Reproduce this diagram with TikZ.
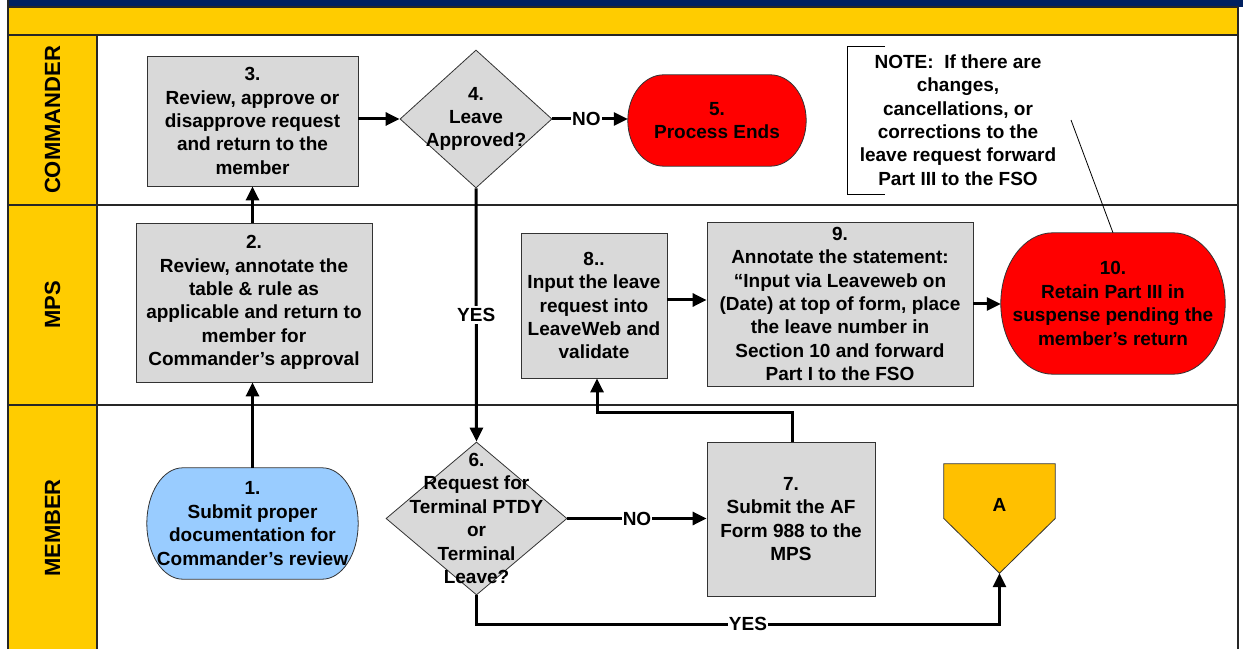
\documentclass[tikz,border=0pt]{standalone}
\usepackage{fontspec}
\setmainfont{Liberation Sans}
\usetikzlibrary{arrows.meta,calc,backgrounds,shapes.geometric}

\definecolor{navy}{RGB}{0,32,96}
\definecolor{laneyellow}{RGB}{255,204,0}
\definecolor{boxgray}{RGB}{217,217,217}
\definecolor{termred}{RGB}{255,0,0}
\definecolor{termblue}{RGB}{153,204,255}
\definecolor{offpage}{RGB}{255,192,0}

% terminator outline with elliptical ends, drawn behind a named node
\newcommand\termfill[3]{%
  \path[draw=black!80, line width=0.8pt, fill=#3]
    let \p1=(#1.north west), \p2=(#1.south east), \n1={(\y1-\y2)/2} in
    (\x1+#2pt,\y1) -- (\x2-#2pt,\y1)
    arc[start angle=90, end angle=-90, x radius=#2pt, y radius=\n1]
    -- (\x1+#2pt,\y2)
    arc[start angle=270, end angle=90, x radius=#2pt, y radius=\n1] -- cycle;}

\tikzset{
  txt/.style={font=\bfseries\fontsize{19}{23.4}\selectfont, align=center, inner sep=0pt},
  lanelbl/.style={font=\bfseries\fontsize{22}{26}\selectfont, rotate=90, inner sep=0pt},
  frameline/.style={draw=black!85, line width=1.2pt},
  procbox/.style={txt, rectangle, draw=black!80, line width=0.8pt, fill=boxgray},
  decision/.style={diamond, draw=black!80, line width=0.8pt, fill=boxgray, inner sep=0pt},
  termnode/.style={txt, rectangle, draw=none},
  conn/.style={line width=3pt, -{Triangle[length=14pt,width=13pt]}},
  lbl/.style={txt, fill=white, inner xsep=1pt, inner ysep=2pt},
}

\begin{document}
\begin{tikzpicture}[x=1pt, y=1pt]
\useasboundingbox (0,0) rectangle (1243,649);

% ---- swim-lane frame ----
\fill[navy] (8,642) rectangle (1243,649);
\fill[laneyellow] (8,614) rectangle (1238,642);
\fill[laneyellow] (8,0) rectangle (97,614);
\draw[frameline] (8,642) -- (1238,642);
\draw[frameline] (8,614) -- (1238,614);
\draw[frameline] (8,444) -- (1238,444);
\draw[frameline] (8,244) -- (1238,244);
\draw[frameline] (8,0) -- (8,649);
\draw[frameline] (97,0) -- (97,614);
\draw[frameline] (1238,0) -- (1238,642);

\node[lanelbl] (lcmd) at (52.5,529) {COMMANDER};
\node[lanelbl] (lmps) at (52.5,344) {MPS};
\node[lanelbl] (lmem) at (52.5,121) {MEMBER};

% ---- Commander lane ----
\node[procbox, minimum width=211pt, minimum height=130pt] (n3) at (252.5,528)
  {3.\\Review, approve or\\disapprove request\\and return to the\\member};
\node[decision, minimum width=152pt, minimum height=138pt] (d4) at (476,530) {};
\node[txt] (t4) at (476,530) {4.\\Leave\\Approved?};
\node[termnode, minimum width=178pt, minimum height=91pt] (n5) at (717,528.5)
  {5.\\Process Ends};

\node[txt] (note) at (958,529)
  {NOTE:\ \ If there are\\changes,\\cancellations, or\\corrections to the\\leave request forward\\Part III to the FSO};
\draw[black, line width=0.8pt] (885,603) -- (847,603) -- (847,455) -- (885,455);
\coordinate (notetail) at (1071,529);

% ---- MPS lane ----
\node[procbox, minimum width=236pt, minimum height=159pt] (n2) at (254,346.5)
  {2.\\Review, annotate the\\table \& rule as\\applicable and return to\\member for\\Commander’s approval};
\node[procbox, minimum width=146pt, minimum height=145pt] (n8) at (594,343.5)
  {8..\\Input the leave\\request into\\LeaveWeb and\\validate};
\node[procbox, minimum width=266pt, minimum height=164pt] (n9) at (840,345)
  {9.\\Annotate the statement:\\“Input via Leaveweb on\\(Date) at top of form, place\\the leave number in\\Section 10 and forward\\Part I to the FSO};
\node[termnode, minimum width=224pt, minimum height=141pt] (n10) at (1113,345.5)
  {10.\\Retain Part III in\\suspense pending the\\member’s return};

% ---- Member lane ----
\node[termnode, minimum width=211pt, minimum height=111pt] (n1) at (252.5,125.5)
  {1.\\Submit proper\\documentation for\\Commander’s review};
\node[decision, minimum width=181pt, minimum height=153pt] (d6) at (476.5,130.5) {};
\node[txt] (t6) at (476.5,130.5) {6.\\Request for\\Terminal PTDY\\or\\Terminal\\Leave?};
\node[procbox, minimum width=168pt, minimum height=154pt] (n7) at (791,130)
  {7.\\Submit the AF\\Form 988 to the\\MPS};
\node[rectangle, draw=none, minimum width=111pt, minimum height=109pt, inner sep=0pt] (A) at (999.5,130.5) {};
\draw[draw=black!80, line width=0.8pt, fill=offpage]
  (A.north west) -- (A.north east) -- (A.east) -- (A.south) -- (A.west) -- cycle;
\node[txt] (Atxt) at (999.5,144) {A};

% ---- terminator outlines behind their texts ----
\begin{scope}[on background layer]
  \termfill{n5}{36}{termred}
  \termfill{n10}{52}{termred}
  \termfill{n1}{36}{termblue}
\end{scope}

% ---- connectors ----
\draw[conn] (n1.north) -- (n1.north |- n2.south);
\draw[conn] (n2.north -| n1.north) -- (n3.south -| n1.north);
\draw[conn] (n3.east |- d4.west) -- (d4.west);
\draw[conn] (d4.east) -- (d4.east -| n5.west) node[lbl, pos=0.45] (lno1) {NO};
\draw[conn] (d4.south) -- (d6.north) node[lbl, pos=0.5] (lyes1) {YES};
\draw[conn] (d6.east) -- (d6.east -| n7.west) node[lbl, pos=0.5] (lno2) {NO};
\coordinate (j78) at (792,237);
\draw[conn] (n7.north -| j78) -- (j78) -| ([xshift=3pt]n8.south);
\draw[conn] ([yshift=5.5pt]n8.east) -- ([yshift=5.5pt]n8.east -| n9.west);
\draw[conn] (n9.east) -- (n9.east -| n10.west);
\coordinate (j6a) at (476.5,25);
\draw[conn] (d6.south) -- (j6a) -| (A.south);
\node[lbl] (lyes2) at (748,25) {YES};
\draw[black, line width=0.8pt] (notetail) -- (n10.north);
\end{tikzpicture}
\end{document}
